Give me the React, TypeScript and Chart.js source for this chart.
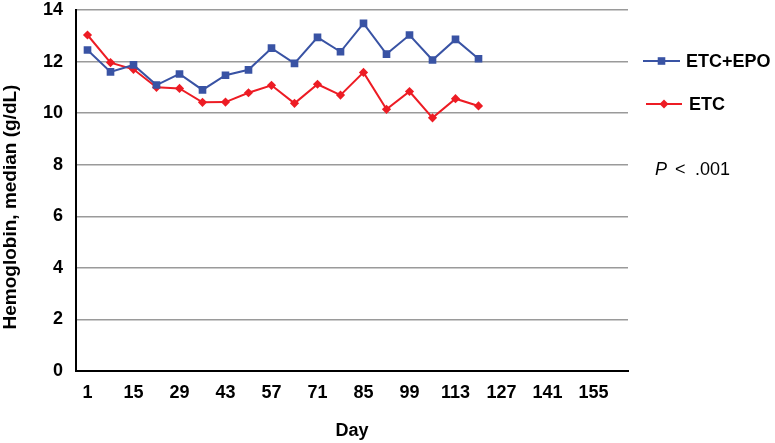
import React, { useEffect, useRef } from "react";
import { Chart, registerables } from "chart.js";

Chart.register(...registerables);

const days = [1, 8, 15, 22, 29, 36, 43, 50, 57, 64, 71, 78, 85, 92, 99, 106, 113, 120, 127, 134, 141, 148, 155, 162];
const etcEpo = [12.45, 11.6, 11.87, 11.09, 11.52, 10.9, 11.47, 11.68, 12.52, 11.93, 12.94, 12.38, 13.48, 12.29, 13.03, 12.06, 12.86, 12.11];
const etc = [13.03, 11.96, 11.7, 11.0, 10.96, 10.42, 10.43, 10.79, 11.08, 10.38, 11.12, 10.7, 11.58, 10.15, 10.84, 9.82, 10.56, 10.28];
const seriesNames = ["ETC+EPO", "ETC"];
const yTitle = "Hemoglobin, median (g/dL)";
const xTitle = "Day";
const pParts = ["P", "<", ".001"];

const BLUE = "#3953a4";
const RED = "#ed1c24";
const FONT = "Arial, 'Liberation Sans', sans-serif";

export default function App() {
  const ref = useRef<HTMLCanvasElement | null>(null);
  useEffect(() => {
    document.body.style.margin = "0";
    const legendPlugin = {
      id: "customLegend",
      afterDraw(chart: any) {
        const ctx = chart.ctx;
        ctx.save();
        const items = [
          { name: seriesNames[0], color: BLUE, style: "rect", x0: 643, x1: 680, y: 61, tx: 686, r: 5.3 },
          { name: seriesNames[1], color: RED, style: "rectRot", x0: 646, x1: 682, y: 104, tx: 689, r: 4.5 },
        ];
        for (const it of items) {
          ctx.strokeStyle = it.color;
          ctx.lineWidth = 2;
          ctx.beginPath();
          ctx.moveTo(it.x0, it.y);
          ctx.lineTo(it.x1, it.y);
          ctx.stroke();
          ctx.fillStyle = it.color;
          const cx = (it.x0 + it.x1) / 2;
          ctx.beginPath();
          if (it.style === "rect") {
            ctx.rect(cx - 3.8, it.y - 3.8, 7.6, 7.6);
          } else {
            ctx.moveTo(cx, it.y - it.r);
            ctx.lineTo(cx + it.r, it.y);
            ctx.lineTo(cx, it.y + it.r);
            ctx.lineTo(cx - it.r, it.y);
            ctx.closePath();
          }
          ctx.fill();
          ctx.fillStyle = "#000";
          ctx.font = `bold 18px ${FONT}`;
          ctx.textBaseline = "middle";
          ctx.textAlign = "left";
          ctx.fillText(it.name, it.tx, it.y + 1);
        }
        ctx.fillStyle = "#000";
        ctx.textBaseline = "middle";
        ctx.textAlign = "left";
        ctx.font = `italic 18px ${FONT}`;
        ctx.fillText(pParts[0], 655, 170);
        ctx.font = `18px ${FONT}`;
        ctx.fillText(pParts[1], 675, 170);
        ctx.fillText(pParts[2], 695, 170);

        // y-axis title
        ctx.save();
        ctx.translate(11, 207);
        ctx.rotate(-Math.PI / 2);
        ctx.font = `bold 19px ${FONT}`;
        ctx.textAlign = "center";
        ctx.textBaseline = "middle";
        ctx.fillText(yTitle, 0, 0);
        ctx.restore();
        ctx.restore();
      },
    };
    const chart = new Chart(ref.current!, {
      type: "line",
      data: {
        labels: days.map(String),
        datasets: [
          {
            label: seriesNames[0],
            data: etcEpo,
            borderColor: BLUE,
            backgroundColor: BLUE,
            borderWidth: 2,
            pointStyle: "rect",
            pointRadius: 5.4,
            pointBorderWidth: 0,
            tension: 0,
          },
          {
            label: seriesNames[1],
            data: etc,
            borderColor: RED,
            backgroundColor: RED,
            borderWidth: 2,
            pointStyle: "rectRot",
            pointRadius: 4.6,
            pointBorderWidth: 0,
            tension: 0,
          },
        ],
      },
      options: {
        animation: false,
        responsive: false,
        layout: { padding: { left: 0, right: 147, top: 10, bottom: 0 } },
        plugins: { legend: { display: false }, tooltip: { enabled: false } },
        scales: {
          x: {
            offset: true,
            grid: { display: false, offset: true },
            border: { display: true, color: "#000", width: 2 },
            ticks: {
              autoSkip: false,
              maxRotation: 0,
              color: "#000",
              font: { family: FONT, size: 18, weight: "bold" },
              padding: 3,
              callback: (_v: any, i: number) => (i % 2 === 0 ? String(days[i]) : ""),
            },
            title: {
              display: true,
              text: xTitle,
              color: "#000",
              font: { family: FONT, size: 18, weight: "bold" },
              padding: { top: 14, bottom: 1 },
            },
            afterFit: (s: any) => {
              s.height = 72;
              s.paddingLeft = 0;
              s.paddingRight = 0;
            },
          },
          y: {
            min: 0,
            max: 14,
            grid: { color: "#9a9a9a", lineWidth: 1.5, drawTicks: false },
            border: { display: true, color: "#000", width: 2 },
            ticks: {
              stepSize: 2,
              color: "#000",
              font: { family: FONT, size: 18, weight: "bold" },
              padding: 13,
            },
            title: { display: false },
            afterFit: (s: any) => {
              s.width = 76;
              s.paddingTop = 0;
              s.paddingBottom = 0;
            },
          },
        },
      },
      plugins: [legendPlugin],
    } as any);
    return () => chart.destroy();
  }, []);
  return (
    <div style={{ position: "absolute", left: 0, top: 0, width: 775, height: 443, background: "#fff" }}>
      <canvas ref={ref} width={775} height={443} style={{ display: "block" }} />
    </div>
  );
}
